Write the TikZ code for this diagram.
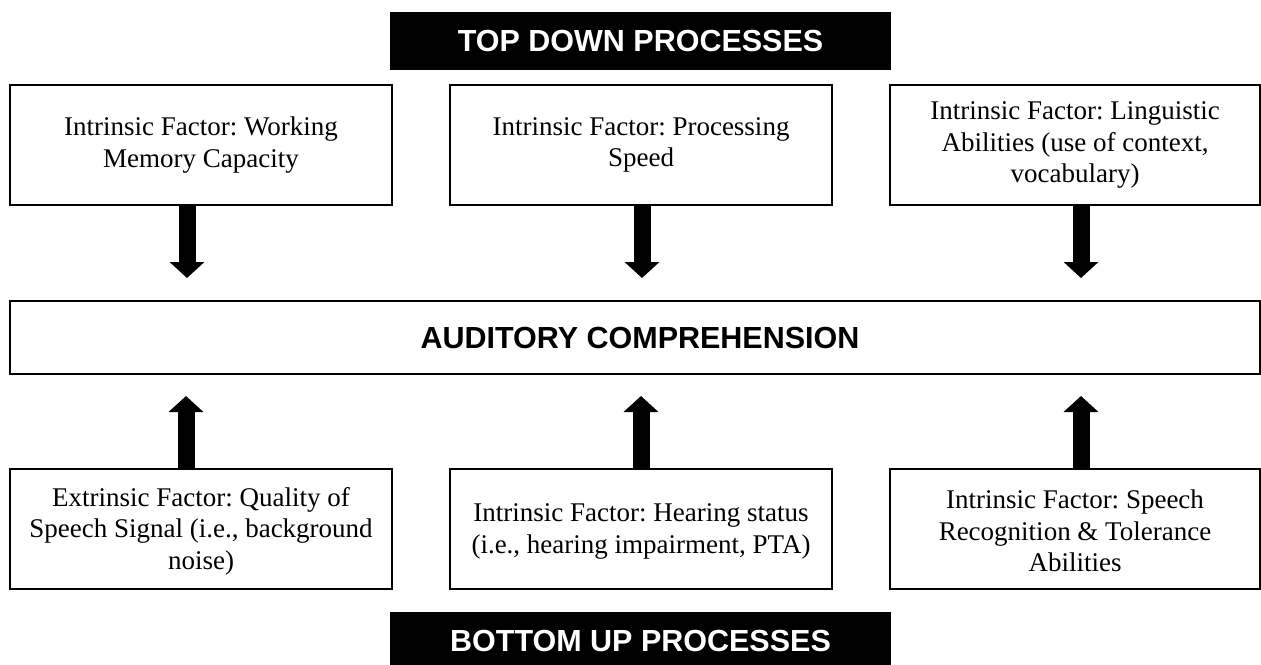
\documentclass[tikz,border=0pt]{standalone}
\usepackage{fontspec}
\setmainfont{Liberation Serif}
\newfontfamily\headfont{Liberation Sans}
\usetikzlibrary{arrows.meta}
\frenchspacing
\tikzset{
  factor/.style={draw=black, line width=1.5pt, fill=white, minimum width=382pt, minimum height=120pt,
    inner sep=0pt, outer sep=0pt, align=center, font=\fontsize{27}{31.5}\selectfont},
  banner/.style={fill=black, text=white, minimum width=501pt, minimum height=58pt,
    inner sep=0pt, outer sep=0pt, font=\headfont\bfseries\fontsize{30.5}{36}\selectfont},
  central/.style={draw=black, line width=1.5pt, minimum width=1250pt, minimum height=73pt,
    inner sep=0pt, outer sep=0pt, font=\headfont\bfseries\fontsize{30.5}{36}\selectfont},
  bigarrow/.style={line width=17pt, -{Triangle[width=34pt,length=16pt]}},
}
\begin{document}
\begin{tikzpicture}[x=1pt,y=-1pt]
\useasboundingbox[fill=white] (0,0) rectangle (1261,664);
\begin{scope}
\clip (0,0) rectangle (1261,664);
\node[banner] (top) at (640.5,41) {TOP DOWN PROCESSES};
\node[banner] (bottom) at (640.5,641) {BOTTOM UP PROCESSES};
\node[factor] (t1) at (201,145) {Intrinsic Factor: Working\\Memory Capacity};
\node[factor] (t2) at (641,145) {Intrinsic Factor: Processing\\Speed};
\node[factor, minimum width=370pt] (t3) at (1075,145) {Intrinsic Factor: Linguistic\\Abilities (use of context,\\vocabulary)};
\node[central] (mid) at (635,337.5) {\hspace{10pt}AUDITORY COMPREHENSION};
\node[factor] (b1) at (201,529) {\rule{0pt}{23pt}Extrinsic Factor: Quality of\\Speech Signal (i.e., background\\noise)};
\node[factor] (b2) at (641,529) {\rule{0pt}{23pt}Intrinsic Factor: Hearing status\\(i.e., hearing impairment, PTA)};
\node[factor, minimum width=370pt] (b3) at (1075,529) {\rule{0pt}{23pt}Intrinsic Factor: Speech\\Recognition \& Tolerance\\Abilities};
\draw[bigarrow, shorten >=23pt] ([xshift=-14]t1.south) -- ([xshift=-14]t1.south |- mid.north);
\draw[bigarrow, shorten >=23pt] ([xshift=1]t2.south) -- ([xshift=1]t2.south |- mid.north);
\draw[bigarrow, shorten >=23pt] ([xshift=6]t3.south) -- ([xshift=6]t3.south |- mid.north);
\draw[bigarrow, shorten >=22pt] ([xshift=-15]b1.north) -- ([xshift=-15]b1.north |- mid.south);
\draw[bigarrow, shorten >=22pt] ([xshift=0]b2.north) -- ([xshift=0]b2.north |- mid.south);
\draw[bigarrow, shorten >=22pt] ([xshift=6]b3.north) -- ([xshift=6]b3.north |- mid.south);
\end{scope}
\end{tikzpicture}
\end{document}
